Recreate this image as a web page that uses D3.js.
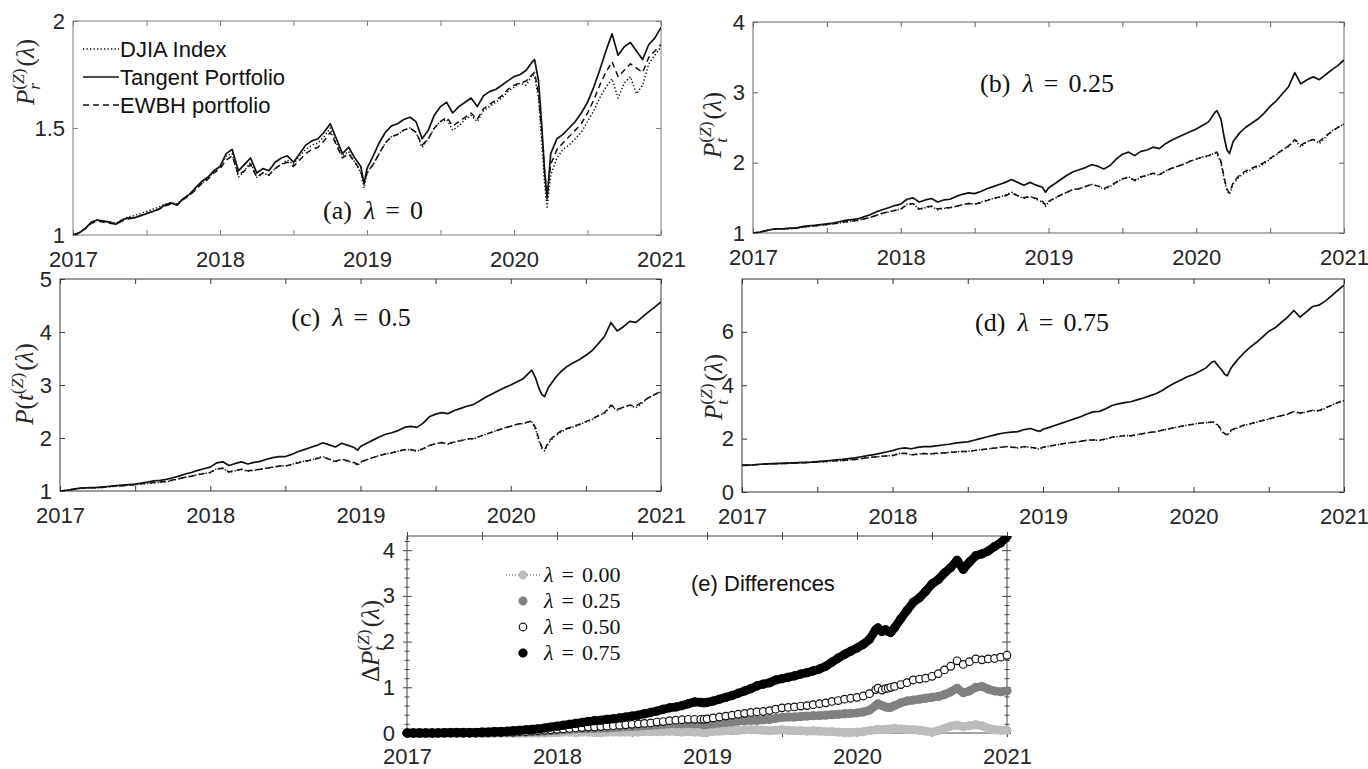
<!DOCTYPE html>
<html>
<head>
<meta charset="utf-8">
<script src="https://cdn.jsdelivr.net/npm/d3@7/dist/d3.min.js"></script>
<style>
  html, body { margin: 0; padding: 0; background: #fff; }
  svg { display: block; }
</style>
</head>
<body>
<script>
// ---------------------------------------------------------------------------
// Sampling dates (decimal years, roughly half-monthly, with a few extra dates
// around the late-2018 low and the March 2020 sell-off)
// ---------------------------------------------------------------------------
const dates = [
  2017.000, 2017.042, 2017.083, 2017.125, 2017.167, 2017.208, 2017.250, 2017.292, 2017.333, 2017.375, 2017.417, 2017.458,
  2017.500, 2017.542, 2017.583, 2017.625, 2017.667, 2017.708, 2017.750, 2017.792, 2017.833, 2017.875, 2017.917, 2017.958,
  2018.000, 2018.042, 2018.083, 2018.125, 2018.167, 2018.208, 2018.250, 2018.292, 2018.333, 2018.375, 2018.417, 2018.458,
  2018.500, 2018.542, 2018.583, 2018.625, 2018.667, 2018.708, 2018.750, 2018.792, 2018.833, 2018.875, 2018.917, 2018.958,
  2018.980,
  2019.000, 2019.042, 2019.083, 2019.125, 2019.167, 2019.208, 2019.250, 2019.292, 2019.333, 2019.375, 2019.417, 2019.458,
  2019.500, 2019.542, 2019.583, 2019.625, 2019.667, 2019.708, 2019.750, 2019.792, 2019.833, 2019.875, 2019.917, 2019.958,
  2020.000, 2020.042, 2020.083, 2020.125, 2020.140, 2020.167, 2020.190, 2020.208, 2020.225,
  2020.250, 2020.292, 2020.333, 2020.375, 2020.417, 2020.458, 2020.500, 2020.542, 2020.583, 2020.625, 2020.667, 2020.708,
  2020.750, 2020.792, 2020.833, 2020.875, 2020.917, 2020.958,
  2021.000
];

const xTickValues = [2017, 2017.5, 2018, 2018.5, 2019, 2019.5, 2020, 2020.5, 2021];

// ---------------------------------------------------------------------------
// (a) lambda = 0
// ---------------------------------------------------------------------------
const aDJIA = [
  1.00, 1.01, 1.03, 1.06, 1.07, 1.065, 1.06, 1.055, 1.07, 1.085, 1.09, 1.10,
  1.11, 1.12, 1.13, 1.145, 1.15, 1.145, 1.17, 1.19, 1.215, 1.24, 1.265, 1.295,
  1.32, 1.37, 1.38, 1.27, 1.30, 1.34, 1.27, 1.29, 1.28, 1.31, 1.33, 1.35,
  1.33, 1.37, 1.40, 1.42, 1.43, 1.46, 1.50, 1.43, 1.37, 1.39, 1.34, 1.29, 1.22,
  1.29, 1.33, 1.38, 1.43, 1.46, 1.47, 1.49, 1.50, 1.48, 1.41, 1.45, 1.50,
  1.53, 1.54, 1.49, 1.51, 1.54, 1.56, 1.53, 1.58, 1.60, 1.62, 1.64, 1.67,
  1.69, 1.71, 1.70, 1.75, 1.74, 1.64, 1.42, 1.24, 1.13,
  1.28, 1.36, 1.40, 1.42, 1.45, 1.48, 1.53, 1.58, 1.64, 1.69, 1.73, 1.64,
  1.71, 1.74, 1.66, 1.70, 1.80, 1.84,
  1.88
];
const aTangent = [
  1.00, 1.01, 1.03, 1.06, 1.07, 1.065, 1.06, 1.05, 1.07, 1.08, 1.08, 1.09,
  1.10, 1.11, 1.12, 1.14, 1.15, 1.14, 1.17, 1.19, 1.22, 1.25, 1.27, 1.30,
  1.32, 1.38, 1.40, 1.30, 1.33, 1.36, 1.29, 1.31, 1.30, 1.34, 1.36, 1.37,
  1.34, 1.38, 1.42, 1.44, 1.45, 1.48, 1.52, 1.45, 1.38, 1.41, 1.36, 1.32, 1.24,
  1.31, 1.37, 1.43, 1.48, 1.51, 1.52, 1.54, 1.55, 1.53, 1.45, 1.49, 1.56,
  1.60, 1.62, 1.57, 1.60, 1.62, 1.64, 1.60, 1.65, 1.67, 1.68, 1.70, 1.72,
  1.74, 1.75, 1.77, 1.81, 1.82, 1.72, 1.50, 1.30, 1.17,
  1.38, 1.45, 1.47, 1.50, 1.53, 1.57, 1.62, 1.69, 1.77, 1.86, 1.94, 1.84,
  1.88, 1.90, 1.86, 1.82, 1.89, 1.92,
  1.97
];
const aEWBH = [
  1.00, 1.01, 1.03, 1.055, 1.065, 1.06, 1.055, 1.05, 1.065, 1.075, 1.08, 1.09,
  1.10, 1.11, 1.12, 1.135, 1.145, 1.14, 1.165, 1.185, 1.21, 1.24, 1.26, 1.29,
  1.31, 1.35, 1.37, 1.28, 1.30, 1.33, 1.27, 1.29, 1.28, 1.31, 1.33, 1.34,
  1.32, 1.35, 1.38, 1.40, 1.41, 1.44, 1.48, 1.42, 1.36, 1.38, 1.34, 1.30, 1.24,
  1.29, 1.33, 1.38, 1.43, 1.46, 1.47, 1.49, 1.50, 1.48, 1.42, 1.45, 1.50,
  1.53, 1.55, 1.51, 1.53, 1.55, 1.57, 1.54, 1.59, 1.61, 1.63, 1.65, 1.68,
  1.70, 1.71, 1.72, 1.75, 1.76, 1.66, 1.47, 1.30, 1.19,
  1.33, 1.40, 1.43, 1.46, 1.49, 1.52, 1.57, 1.63, 1.70, 1.76, 1.81, 1.74,
  1.77, 1.80, 1.78, 1.76, 1.83, 1.86,
  1.89
];

// ---------------------------------------------------------------------------
// (b) lambda = 0.25
// ---------------------------------------------------------------------------
const bDJIA = [
  1.00, 1.01, 1.03, 1.05, 1.06, 1.06, 1.06, 1.065, 1.08, 1.09, 1.10, 1.11,
  1.12, 1.13, 1.14, 1.155, 1.165, 1.175, 1.20, 1.22, 1.25, 1.28, 1.30, 1.32,
  1.34, 1.41, 1.42, 1.33, 1.36, 1.38, 1.33, 1.35, 1.36, 1.38, 1.40, 1.42,
  1.41, 1.44, 1.47, 1.49, 1.51, 1.54, 1.58, 1.53, 1.49, 1.52, 1.48, 1.44, 1.38,
  1.44, 1.49, 1.54, 1.58, 1.62, 1.63, 1.66, 1.69, 1.67, 1.62, 1.66, 1.72,
  1.77, 1.80, 1.74, 1.79, 1.82, 1.85, 1.82, 1.88, 1.92, 1.95, 1.98, 2.02,
  2.05, 2.08, 2.09, 2.14, 2.13, 2.00, 1.75, 1.60, 1.55,
  1.70, 1.80, 1.86, 1.90, 1.94, 1.98, 2.05, 2.11, 2.18, 2.23, 2.32, 2.22,
  2.30, 2.33, 2.27, 2.36, 2.45, 2.50,
  2.55
];
const bTangent = [
  1.00, 1.01, 1.03, 1.05, 1.06, 1.06, 1.07, 1.07, 1.09, 1.10, 1.11, 1.12,
  1.13, 1.14, 1.16, 1.18, 1.19, 1.20, 1.23, 1.26, 1.30, 1.33, 1.36, 1.39,
  1.41, 1.48, 1.50, 1.44, 1.47, 1.49, 1.44, 1.47, 1.48, 1.52, 1.55, 1.57,
  1.56, 1.59, 1.63, 1.66, 1.69, 1.72, 1.76, 1.72, 1.68, 1.72, 1.68, 1.65, 1.58,
  1.64, 1.70, 1.76, 1.82, 1.87, 1.90, 1.93, 1.97, 1.95, 1.91, 1.96, 2.05,
  2.12, 2.15, 2.10, 2.16, 2.18, 2.22, 2.20, 2.27, 2.32, 2.36, 2.40, 2.44,
  2.48, 2.53, 2.58, 2.71, 2.74, 2.62, 2.35, 2.18, 2.13,
  2.30, 2.42, 2.50, 2.56, 2.62, 2.70, 2.80, 2.88, 2.98, 3.08, 3.28, 3.12,
  3.18, 3.22, 3.18, 3.25, 3.32, 3.38,
  3.46
];
const bEWBH = [
  1.00, 1.01, 1.03, 1.05, 1.06, 1.06, 1.065, 1.07, 1.085, 1.095, 1.10, 1.11,
  1.12, 1.13, 1.145, 1.16, 1.17, 1.18, 1.20, 1.22, 1.25, 1.28, 1.30, 1.32,
  1.34, 1.40, 1.42, 1.34, 1.37, 1.38, 1.34, 1.36, 1.36, 1.38, 1.40, 1.42,
  1.41, 1.43, 1.46, 1.49, 1.51, 1.53, 1.57, 1.53, 1.50, 1.52, 1.49, 1.45, 1.40,
  1.45, 1.50, 1.54, 1.58, 1.62, 1.63, 1.66, 1.69, 1.67, 1.63, 1.67, 1.72,
  1.77, 1.79, 1.75, 1.80, 1.82, 1.85, 1.83, 1.88, 1.92, 1.95, 1.98, 2.02,
  2.05, 2.08, 2.10, 2.14, 2.15, 2.02, 1.78, 1.62, 1.57,
  1.72, 1.82, 1.88, 1.92, 1.96, 2.00, 2.06, 2.12, 2.18, 2.24, 2.33, 2.25,
  2.30, 2.33, 2.30, 2.38, 2.44, 2.50,
  2.55
];

// ---------------------------------------------------------------------------
// (c) lambda = 0.5
// ---------------------------------------------------------------------------
const cDJIA = [
  1.00, 1.01, 1.03, 1.05, 1.06, 1.06, 1.06, 1.065, 1.08, 1.09, 1.10, 1.11,
  1.12, 1.13, 1.145, 1.155, 1.165, 1.175, 1.20, 1.23, 1.26, 1.28, 1.31, 1.33,
  1.35, 1.42, 1.43, 1.35, 1.38, 1.41, 1.37, 1.39, 1.41, 1.43, 1.45, 1.47,
  1.47, 1.50, 1.54, 1.56, 1.58, 1.62, 1.65, 1.60, 1.55, 1.60, 1.56, 1.53, 1.48,
  1.54, 1.59, 1.63, 1.67, 1.70, 1.72, 1.75, 1.78, 1.78, 1.75, 1.79, 1.86,
  1.89, 1.92, 1.88, 1.92, 1.95, 1.98, 1.98, 2.03, 2.07, 2.11, 2.15, 2.19,
  2.22, 2.26, 2.27, 2.31, 2.30, 2.15, 1.92, 1.80, 1.76,
  1.90, 2.03, 2.11, 2.17, 2.21, 2.25, 2.30, 2.35, 2.42, 2.47, 2.61, 2.52,
  2.58, 2.62, 2.57, 2.66, 2.76, 2.82,
  2.87
];
const cTangent = [
  1.00, 1.01, 1.03, 1.05, 1.06, 1.065, 1.07, 1.08, 1.09, 1.10, 1.11, 1.12,
  1.13, 1.15, 1.17, 1.19, 1.20, 1.22, 1.25, 1.28, 1.32, 1.35, 1.39, 1.42,
  1.45, 1.53, 1.55, 1.48, 1.52, 1.55, 1.51, 1.54, 1.56, 1.60, 1.63, 1.65,
  1.65, 1.69, 1.74, 1.78, 1.82, 1.86, 1.91, 1.87, 1.83, 1.90, 1.86, 1.82, 1.77,
  1.84, 1.90, 1.96, 2.02, 2.07, 2.10, 2.14, 2.20, 2.22, 2.20, 2.28, 2.40,
  2.45, 2.48, 2.46, 2.52, 2.56, 2.60, 2.63, 2.70, 2.77, 2.83, 2.89, 2.95,
  3.00, 3.06, 3.12, 3.24, 3.28, 3.12, 2.92, 2.82, 2.78,
  2.95, 3.12, 3.25, 3.35, 3.42, 3.48, 3.56, 3.65, 3.78, 3.92, 4.18, 4.02,
  4.10, 4.20, 4.18, 4.28, 4.38, 4.47,
  4.57
];
const cEWBH = [
  1.00, 1.01, 1.03, 1.05, 1.06, 1.06, 1.065, 1.07, 1.085, 1.095, 1.10, 1.11,
  1.12, 1.135, 1.15, 1.16, 1.17, 1.18, 1.21, 1.23, 1.26, 1.28, 1.31, 1.33,
  1.35, 1.41, 1.43, 1.36, 1.39, 1.41, 1.38, 1.40, 1.41, 1.43, 1.45, 1.47,
  1.47, 1.50, 1.53, 1.56, 1.58, 1.61, 1.64, 1.60, 1.56, 1.60, 1.57, 1.54, 1.50,
  1.55, 1.59, 1.63, 1.67, 1.70, 1.72, 1.75, 1.78, 1.78, 1.76, 1.80, 1.86,
  1.89, 1.91, 1.89, 1.93, 1.95, 1.98, 1.99, 2.03, 2.07, 2.11, 2.15, 2.19,
  2.22, 2.26, 2.28, 2.31, 2.32, 2.18, 1.95, 1.82, 1.77,
  1.93, 2.05, 2.13, 2.18, 2.22, 2.26, 2.31, 2.36, 2.42, 2.48, 2.62, 2.54,
  2.58, 2.62, 2.60, 2.68, 2.76, 2.82,
  2.88
];

// ---------------------------------------------------------------------------
// (d) lambda = 0.75
// ---------------------------------------------------------------------------
const dDJIA = [
  1.00, 1.01, 1.02, 1.04, 1.05, 1.06, 1.06, 1.065, 1.08, 1.09, 1.10, 1.11,
  1.12, 1.135, 1.15, 1.165, 1.175, 1.195, 1.22, 1.25, 1.28, 1.31, 1.33, 1.35,
  1.37, 1.44, 1.45, 1.39, 1.41, 1.44, 1.42, 1.44, 1.46, 1.48, 1.50, 1.52,
  1.52, 1.56, 1.59, 1.61, 1.64, 1.67, 1.71, 1.68, 1.65, 1.70, 1.67, 1.63, 1.60,
  1.67, 1.72, 1.76, 1.80, 1.84, 1.86, 1.90, 1.94, 1.95, 1.93, 1.98, 2.05,
  2.08, 2.12, 2.10, 2.14, 2.19, 2.23, 2.25, 2.31, 2.36, 2.41, 2.46, 2.51,
  2.54, 2.58, 2.59, 2.62, 2.60, 2.45, 2.25, 2.16, 2.13,
  2.30, 2.40, 2.49, 2.55, 2.61, 2.67, 2.73, 2.80, 2.86, 2.91, 3.01, 2.94,
  3.00, 3.06, 3.02, 3.13, 3.25, 3.35,
  3.42
];
const dTangent = [
  1.00, 1.01, 1.02, 1.04, 1.05, 1.06, 1.07, 1.08, 1.09, 1.10, 1.11, 1.12,
  1.14, 1.16, 1.18, 1.20, 1.22, 1.25, 1.28, 1.32, 1.36, 1.40, 1.45, 1.50,
  1.55, 1.62, 1.65, 1.62, 1.67, 1.70, 1.70, 1.73, 1.76, 1.79, 1.83, 1.86,
  1.88, 1.94, 2.00, 2.06, 2.12, 2.18, 2.22, 2.24, 2.26, 2.34, 2.38, 2.30, 2.27,
  2.35, 2.42, 2.50, 2.58, 2.66, 2.74, 2.82, 2.92, 3.00, 3.02, 3.12, 3.24,
  3.30, 3.35, 3.38, 3.45, 3.52, 3.60, 3.68, 3.80, 3.95, 4.08, 4.20, 4.32,
  4.40, 4.52, 4.65, 4.88, 4.90, 4.70, 4.55, 4.40, 4.36,
  4.65, 4.95, 5.20, 5.42, 5.60, 5.80, 6.02, 6.15, 6.35, 6.55, 6.80, 6.55,
  6.75, 6.95, 7.00, 7.15, 7.35, 7.55,
  7.75
];
const dEWBH = [
  1.00, 1.01, 1.02, 1.04, 1.05, 1.06, 1.065, 1.07, 1.08, 1.09, 1.10, 1.11,
  1.12, 1.14, 1.15, 1.17, 1.18, 1.20, 1.22, 1.25, 1.28, 1.31, 1.33, 1.35,
  1.37, 1.43, 1.45, 1.40, 1.42, 1.44, 1.43, 1.45, 1.46, 1.48, 1.50, 1.52,
  1.52, 1.55, 1.58, 1.61, 1.64, 1.66, 1.70, 1.68, 1.66, 1.70, 1.68, 1.64, 1.62,
  1.68, 1.72, 1.76, 1.80, 1.84, 1.86, 1.90, 1.94, 1.95, 1.94, 1.99, 2.05,
  2.08, 2.11, 2.11, 2.15, 2.19, 2.23, 2.26, 2.31, 2.36, 2.41, 2.46, 2.51,
  2.54, 2.58, 2.60, 2.62, 2.62, 2.48, 2.28, 2.18, 2.15,
  2.32, 2.42, 2.50, 2.56, 2.62, 2.68, 2.74, 2.80, 2.86, 2.92, 3.02, 2.96,
  3.00, 3.06, 3.05, 3.15, 3.25, 3.35,
  3.43
];

// ---------------------------------------------------------------------------
// (e) Differences, one series per lambda
// ---------------------------------------------------------------------------
const diff000 = [
  0, 0, 0, 0, 0, 0, 0, 0, 0, 0, 0, 0,
  0, 0, 0, 0, 0, 0, 0, 0, 0, 0, 0, 0.01,
  0.01, 0.02, 0.02, 0.01, 0.02, 0.02, 0.01, 0.01, 0.02, 0.02, 0.02, 0.02,
  0.02, 0.02, 0.03, 0.03, 0.03, 0.03, 0.04, 0.03, 0.02, 0.03, 0.02, 0.02, 0.01,
  0.02, 0.03, 0.04, 0.05, 0.05, 0.06, 0.07, 0.07, 0.07, 0.06, 0.05, 0.06,
  0.07, 0.06, 0.05, 0.05, 0.04, 0.05, 0.04, 0.03, 0.03, 0.02, 0.01, 0.01,
  0.02, 0.03, 0.05, 0.07, 0.08, 0.07, 0.08, 0.08, 0.09,
  0.10, 0.09, 0.08, 0.07, 0.06, 0.04, 0.02, 0.05, 0.10, 0.15, 0.17, 0.14,
  0.16, 0.18, 0.16, 0.10, 0.07, 0.06,
  0.06
];
const diff025 = [
  0, 0, 0, 0, 0, 0, 0, 0, 0, 0, 0, 0,
  0, 0, 0.005, 0.01, 0.01, 0.01, 0.02, 0.02, 0.03, 0.03, 0.04, 0.05,
  0.06, 0.07, 0.08, 0.09, 0.09, 0.10, 0.10, 0.11, 0.11, 0.12, 0.13, 0.14,
  0.14, 0.15, 0.16, 0.17, 0.18, 0.19, 0.20, 0.20, 0.20, 0.21, 0.20, 0.20, 0.18,
  0.19, 0.20, 0.22, 0.23, 0.24, 0.26, 0.27, 0.28, 0.28, 0.29, 0.30, 0.32,
  0.34, 0.35, 0.35, 0.36, 0.37, 0.38, 0.38, 0.39, 0.40, 0.41, 0.42, 0.43,
  0.44, 0.46, 0.50, 0.60, 0.64, 0.60, 0.57, 0.56, 0.56,
  0.60, 0.66, 0.70, 0.72, 0.74, 0.76, 0.78, 0.80, 0.84, 0.90, 0.98, 0.88,
  0.92, 1.00, 1.02, 0.96, 0.92, 0.90,
  0.92
];
const diff050 = [
  0, 0, 0, 0, 0, 0, 0, 0, 0, 0, 0, 0,
  0.005, 0.01, 0.01, 0.01, 0.02, 0.02, 0.03, 0.03, 0.04, 0.05, 0.06, 0.07,
  0.08, 0.09, 0.10, 0.11, 0.12, 0.13, 0.13, 0.14, 0.15, 0.16, 0.17, 0.18,
  0.19, 0.20, 0.21, 0.22, 0.24, 0.25, 0.27, 0.28, 0.29, 0.30, 0.30, 0.30, 0.30,
  0.31, 0.33, 0.35, 0.37, 0.39, 0.41, 0.43, 0.45, 0.46, 0.47, 0.49, 0.52,
  0.55, 0.56, 0.57, 0.59, 0.60, 0.62, 0.64, 0.66, 0.69, 0.71, 0.74, 0.76,
  0.78, 0.81, 0.86, 0.95, 0.98, 0.94, 0.97, 0.98, 1.00,
  1.02, 1.06, 1.10, 1.16, 1.18, 1.20, 1.24, 1.30, 1.38, 1.46, 1.58, 1.50,
  1.56, 1.62, 1.60, 1.62, 1.63, 1.66,
  1.70
];
const diff075 = [
  0, 0, 0, 0, 0, 0, 0.005, 0.01, 0.01, 0.01, 0.01, 0.01,
  0.02, 0.02, 0.03, 0.03, 0.04, 0.05, 0.06, 0.07, 0.08, 0.09, 0.11, 0.13,
  0.15, 0.17, 0.19, 0.21, 0.23, 0.25, 0.27, 0.28, 0.30, 0.31, 0.33, 0.35,
  0.37, 0.39, 0.42, 0.45, 0.48, 0.52, 0.55, 0.57, 0.60, 0.64, 0.68, 0.67, 0.66,
  0.67, 0.70, 0.74, 0.78, 0.82, 0.87, 0.92, 0.97, 1.03, 1.07, 1.10, 1.16,
  1.19, 1.22, 1.25, 1.29, 1.32, 1.36, 1.40, 1.46, 1.55, 1.64, 1.72, 1.79,
  1.86, 1.94, 2.05, 2.26, 2.30, 2.22, 2.26, 2.22, 2.20,
  2.30, 2.50, 2.68, 2.86, 2.96, 3.10, 3.26, 3.36, 3.50, 3.62, 3.78, 3.58,
  3.74, 3.88, 3.92, 3.98, 4.08, 4.16,
  4.30
];

const legendNames = ["DJIA Index", "Tangent Portfolio", "EWBH portfolio"];
const lambdaLabels = ["0.00", "0.25", "0.50", "0.75"];

// ---------------------------------------------------------------------------
// Drawing
// ---------------------------------------------------------------------------
const W = 1368, H = 769;
const SANS = "'Liberation Sans', Arial, Helvetica, sans-serif";
const SERIF = "'Liberation Serif', 'Times New Roman', serif";
const INK = "#262626";

const svg = d3.select("body").append("svg")
  .attr("width", W).attr("height", H)
  .attr("viewBox", `0 0 ${W} ${H}`);
svg.append("rect").attr("width", W).attr("height", H).attr("fill", "#fff");

const panels = [
  { id: "a", x0: 73,  x1: 661,  y0: 21,  y1: 235, yDomain: [1, 2],    yTicks: [1, 1.5, 2],    box: "#7d7d7d",
    series: [aDJIA, aTangent, aEWBH] },
  { id: "b", x0: 753, x1: 1344, y0: 22,  y1: 233, yDomain: [1, 4],    yTicks: [1, 2, 3, 4],   box: "#666",
    series: [bDJIA, bTangent, bEWBH] },
  { id: "c", x0: 60,  x1: 661,  y0: 279, y1: 491, yDomain: [1, 5],    yTicks: [1, 2, 3, 4, 5], box: "#3a3a3a",
    series: [cDJIA, cTangent, cEWBH] },
  { id: "d", x0: 742, x1: 1344, y0: 279, y1: 492, yDomain: [0, 7.98], yTicks: [0, 2, 4, 6],   box: "#333",
    series: [dDJIA, dTangent, dEWBH] }
];

// line styles for DJIA / Tangent / EWBH
const styles = [
  { dash: "1.3,2.2", width: 1.5 },
  { dash: null,      width: 1.7 },
  { dash: "6,4",     width: 1.5 }
];

function pairs(values) {
  const n = Math.min(values.length, dates.length);
  const out = [];
  for (let i = 0; i < n; i++) out.push([dates[i], values[i]]);
  return out;
}

function styleAxis(g, color) {
  g.attr("font-family", SANS).attr("font-size", 22);
  g.select(".domain").remove();
  g.selectAll(".tick line").attr("stroke", color);
  g.selectAll(".tick text").attr("fill", INK);
}

const yearFmt = d => (Number.isInteger(d) ? d3.format("d")(d) : "");
const valFmt = d3.format("~g");

panels.forEach(p => {
  const x = d3.scaleLinear().domain([2017, 2021]).range([p.x0, p.x1]);
  const y = d3.scaleLinear().domain(p.yDomain).range([p.y1, p.y0]);

  const clipId = "clip-" + p.id;
  svg.append("clipPath").attr("id", clipId)
    .append("rect").attr("x", p.x0).attr("y", p.y0)
    .attr("width", p.x1 - p.x0).attr("height", p.y1 - p.y0);

  // axes (ticks point inward)
  const gb = svg.append("g").attr("transform", `translate(0,${p.y1})`)
    .call(d3.axisBottom(x).tickValues(xTickValues).tickSize(-5).tickPadding(16).tickFormat(yearFmt));
  styleAxis(gb, p.box);
  const gt = svg.append("g").attr("transform", `translate(0,${p.y0})`)
    .call(d3.axisTop(x).tickValues(xTickValues).tickSize(-5).tickFormat(""));
  styleAxis(gt, p.box);
  const gl = svg.append("g").attr("transform", `translate(${p.x0},0)`)
    .call(d3.axisLeft(y).tickValues(p.yTicks).tickSize(-5).tickPadding(8).tickFormat(valFmt));
  styleAxis(gl, p.box);
  const gr = svg.append("g").attr("transform", `translate(${p.x1},0)`)
    .call(d3.axisRight(y).tickValues(p.yTicks).tickSize(-5).tickFormat(""));
  styleAxis(gr, p.box);

  svg.append("rect").attr("x", p.x0).attr("y", p.y0)
    .attr("width", p.x1 - p.x0).attr("height", p.y1 - p.y0)
    .attr("fill", "none").attr("stroke", p.box).attr("stroke-width", 1);

  const line = d3.line().x(d => x(d[0])).y(d => y(d[1]));
  const lg = svg.append("g").attr("clip-path", `url(#${clipId})`);
  p.series.forEach((vals, k) => {
    lg.append("path")
      .attr("d", line(pairs(vals)))
      .attr("fill", "none")
      .attr("stroke", "#111")
      .attr("stroke-width", styles[k].width)
      .attr("stroke-linejoin", "round")
      .attr("stroke-dasharray", styles[k].dash);
  });
});

// ---------------------------------------------------------------------------
// Panel (e): differences drawn with markers
// ---------------------------------------------------------------------------
const pe = { x0: 407, x1: 1007, y0: 536, y1: 733, yDomain: [0, 4.31], box: "#444" };
const ex = d3.scaleLinear().domain([2017, 2021]).range([pe.x0, pe.x1]);
const ey = d3.scaleLinear().domain(pe.yDomain).range([pe.y1, pe.y0]);
const eMajor = [0, 1, 2, 3, 4];
const eMinor = [0.2, 0.4, 0.6, 0.8, 1.2, 1.4, 1.6, 1.8, 2.2, 2.4, 2.6, 2.8, 3.2, 3.4, 3.6, 3.8, 4.2];

svg.append("clipPath").attr("id", "clip-e")
  .append("rect").attr("x", pe.x0 - 6).attr("y", pe.y0)
  .attr("width", pe.x1 - pe.x0 + 12).attr("height", pe.y1 - pe.y0 + 6);

// ticks cross the axis lines
const eb = svg.append("g").attr("transform", `translate(0,${pe.y1})`)
  .call(d3.axisBottom(ex).tickValues(xTickValues).tickSize(4).tickPadding(11).tickFormat(yearFmt));
styleAxis(eb, pe.box);
eb.selectAll(".tick line").attr("y1", -4).attr("y2", 4);
const et = svg.append("g").attr("transform", `translate(0,${pe.y0})`)
  .call(d3.axisTop(ex).tickValues(xTickValues).tickSize(4).tickFormat(""));
styleAxis(et, pe.box);
et.selectAll(".tick line").attr("y1", 4).attr("y2", -4);
[["left", pe.x0], ["right", pe.x1]].forEach(([side, xp]) => {
  const mk = side === "left" ? d3.axisLeft : d3.axisRight;
  const s = side === "left" ? 1 : -1;
  const gm = svg.append("g").attr("transform", `translate(${xp},0)`)
    .call(mk(ey).tickValues(eMajor).tickSize(4).tickPadding(8).tickFormat(side === "left" ? d3.format("d") : ""));
  styleAxis(gm, pe.box);
  gm.selectAll(".tick line").attr("x1", 5 * s).attr("x2", -4 * s);
  const gn = svg.append("g").attr("transform", `translate(${xp},0)`)
    .call(mk(ey).tickValues(eMinor).tickSize(2.5).tickFormat(""));
  styleAxis(gn, pe.box);
  gn.selectAll(".tick line").attr("x1", 2.5 * s).attr("x2", -2.5 * s);
});
svg.append("rect").attr("x", pe.x0).attr("y", pe.y0)
  .attr("width", pe.x1 - pe.x0).attr("height", pe.y1 - pe.y0)
  .attr("fill", "none").attr("stroke", pe.box).attr("stroke-width", 1);

const eSeries = [
  { vals: diff000, fill: "#bcbcbc", stroke: "#bcbcbc", band: true,  r: 4.2, dotted: true },
  { vals: diff025, fill: "#808080", stroke: "#808080", band: true,  r: 4.2 },
  { vals: diff050, fill: "#fff",    stroke: "#111",    band: false, r: 3.8 },
  { vals: diff075, fill: "#000",    stroke: "#000",    band: true,  r: 4.3 }
];
const eLine = d3.line().x(d => ex(d[0])).y(d => ey(d[1]));
const eg = svg.append("g").attr("clip-path", "url(#clip-e)");
eSeries.forEach(s => {
  const pts = pairs(s.vals);
  if (s.dotted) {
    eg.append("path").attr("d", eLine(pts)).attr("fill", "none")
      .attr("stroke", "#333").attr("stroke-width", 1).attr("stroke-dasharray", "1,2");
  }
  if (s.band) {
    eg.append("path").attr("d", eLine(pts)).attr("fill", "none")
      .attr("stroke", s.fill).attr("stroke-width", 2 * s.r)
      .attr("stroke-linejoin", "round").attr("stroke-linecap", "round");
  }
  eg.append("g").selectAll("circle").data(pts).join("circle")
    .attr("cx", d => ex(d[0])).attr("cy", d => ey(d[1])).attr("r", s.r)
    .attr("fill", s.fill).attr("stroke", s.stroke).attr("stroke-width", s.band ? 0.6 : 1.2);
});

// ---------------------------------------------------------------------------
// Text: math-style labels
// ---------------------------------------------------------------------------
function mathLabel(bx, cy, tokens, fs) {
  const g = svg.append("g").attr("transform", `translate(${bx},${cy}) rotate(-90)`)
    .attr("font-family", SERIF).attr("fill", INK);
  const inner = g.append("g");
  let cur = 0;
  tokens.forEach(tok => {
    if (tok.stack) {
      let maxW = 0;
      tok.stack.forEach(row => {
        let lx = cur;
        row.parts.forEach(pt => {
          const t = inner.append("text").attr("x", lx).attr("y", row.shift * fs)
            .attr("font-size", fs * row.scale)
            .attr("font-style", pt.it ? "italic" : "normal").text(pt.t);
          lx += t.node().getComputedTextLength();
        });
        maxW = Math.max(maxW, lx - cur);
      });
      cur += maxW + (tok.gap || 0);
    } else {
      const t = inner.append("text").attr("x", cur).attr("y", 0).attr("font-size", fs)
        .attr("font-style", tok.it ? "italic" : "normal").text(tok.t);
      cur += t.node().getComputedTextLength() + (tok.gap || 0);
    }
  });
  inner.attr("transform", `translate(${-cur / 2},0)`);
}

const supZ = { parts: [{ t: "(" }, { t: "Z", it: true }, { t: ")" }], scale: 0.7, shift: -0.42 };
const subOf = ch => ({ parts: [{ t: ch, it: true }], scale: 0.7, shift: 0.25 });
const lamArg = [{ t: "(" }, { t: "λ", it: true }, { t: ")" }];

mathLabel(34, 72,  [{ t: "P", it: true }, { stack: [supZ, subOf("r")], gap: 2 }, ...lamArg], 25);
mathLabel(721, 125, [{ t: "P", it: true }, { stack: [supZ, subOf("t")], gap: 2 }, ...lamArg], 25);
mathLabel(33, 384, [{ t: "P", it: true }, { t: "(" }, { t: "t", it: true }, { stack: [supZ], gap: 2 }, ...lamArg], 25);
mathLabel(722, 387, [{ t: "P", it: true }, { stack: [supZ, subOf("t")], gap: 2 }, ...lamArg], 25);
mathLabel(379, 641, [{ t: "Δ" }, { t: "P", it: true }, { stack: [supZ, subOf("t")], gap: 2 }, ...lamArg], 25);

// centred panel titles: (x) λ = value
function panelTitle(cx, base, tag, val, fs) {
  const t = svg.append("text").attr("x", cx).attr("y", base)
    .attr("text-anchor", "middle").attr("font-family", SERIF)
    .attr("font-size", fs).attr("fill", "#111");
  t.append("tspan").text(tag);
  t.append("tspan").attr("dx", 12).attr("font-style", "italic").text("λ");
  t.append("tspan").attr("dx", 10).text("=");
  t.append("tspan").attr("dx", 10).text(val);
}
panelTitle(373, 219, "(a)", "0", 26);
panelTitle(1047, 92, "(b)", "0.25", 26);
panelTitle(351, 326, "(c)", "0.5", 26);
panelTitle(1042, 331, "(d)", "0.75", 26);

svg.append("text").attr("x", 691).attr("y", 591)
  .attr("font-family", SANS).attr("font-size", 22).attr("fill", "#111")
  .text("(e) Differences");

// legend of panel (a)
const legA = svg.append("g");
legendNames.forEach((name, k) => {
  const cy = 49 + 28 * k;
  legA.append("line").attr("x1", 83).attr("x2", 119).attr("y1", cy).attr("y2", cy)
    .attr("stroke", "#111").attr("stroke-width", styles[k].width)
    .attr("stroke-dasharray", styles[k].dash);
  legA.append("text").attr("x", 120).attr("y", cy + 8)
    .attr("font-family", SANS).attr("font-size", 22).attr("fill", "#111").text(name);
});

// legend of panel (e)
const legE = svg.append("g");
lambdaLabels.forEach((lab, k) => {
  const cy = 575 + 26 * k;
  const s = eSeries[k];
  if (s.dotted) {
    legE.append("line").attr("x1", 506).attr("x2", 540).attr("y1", cy).attr("y2", cy)
      .attr("stroke", "#333").attr("stroke-width", 1).attr("stroke-dasharray", "1,2");
  }
  legE.append("circle").attr("cx", 523).attr("cy", cy).attr("r", s.r)
    .attr("fill", s.fill).attr("stroke", s.stroke).attr("stroke-width", s.band ? 0.6 : 1.2);
  const t = legE.append("text").attr("x", 544).attr("y", cy + 7)
    .attr("font-family", SERIF).attr("font-size", 22).attr("fill", "#111");
  t.append("tspan").attr("font-style", "italic").text("λ");
  t.append("tspan").attr("dx", 8).text("=");
  t.append("tspan").attr("dx", 8).text(lab);
});
</script>
</body>
</html>
